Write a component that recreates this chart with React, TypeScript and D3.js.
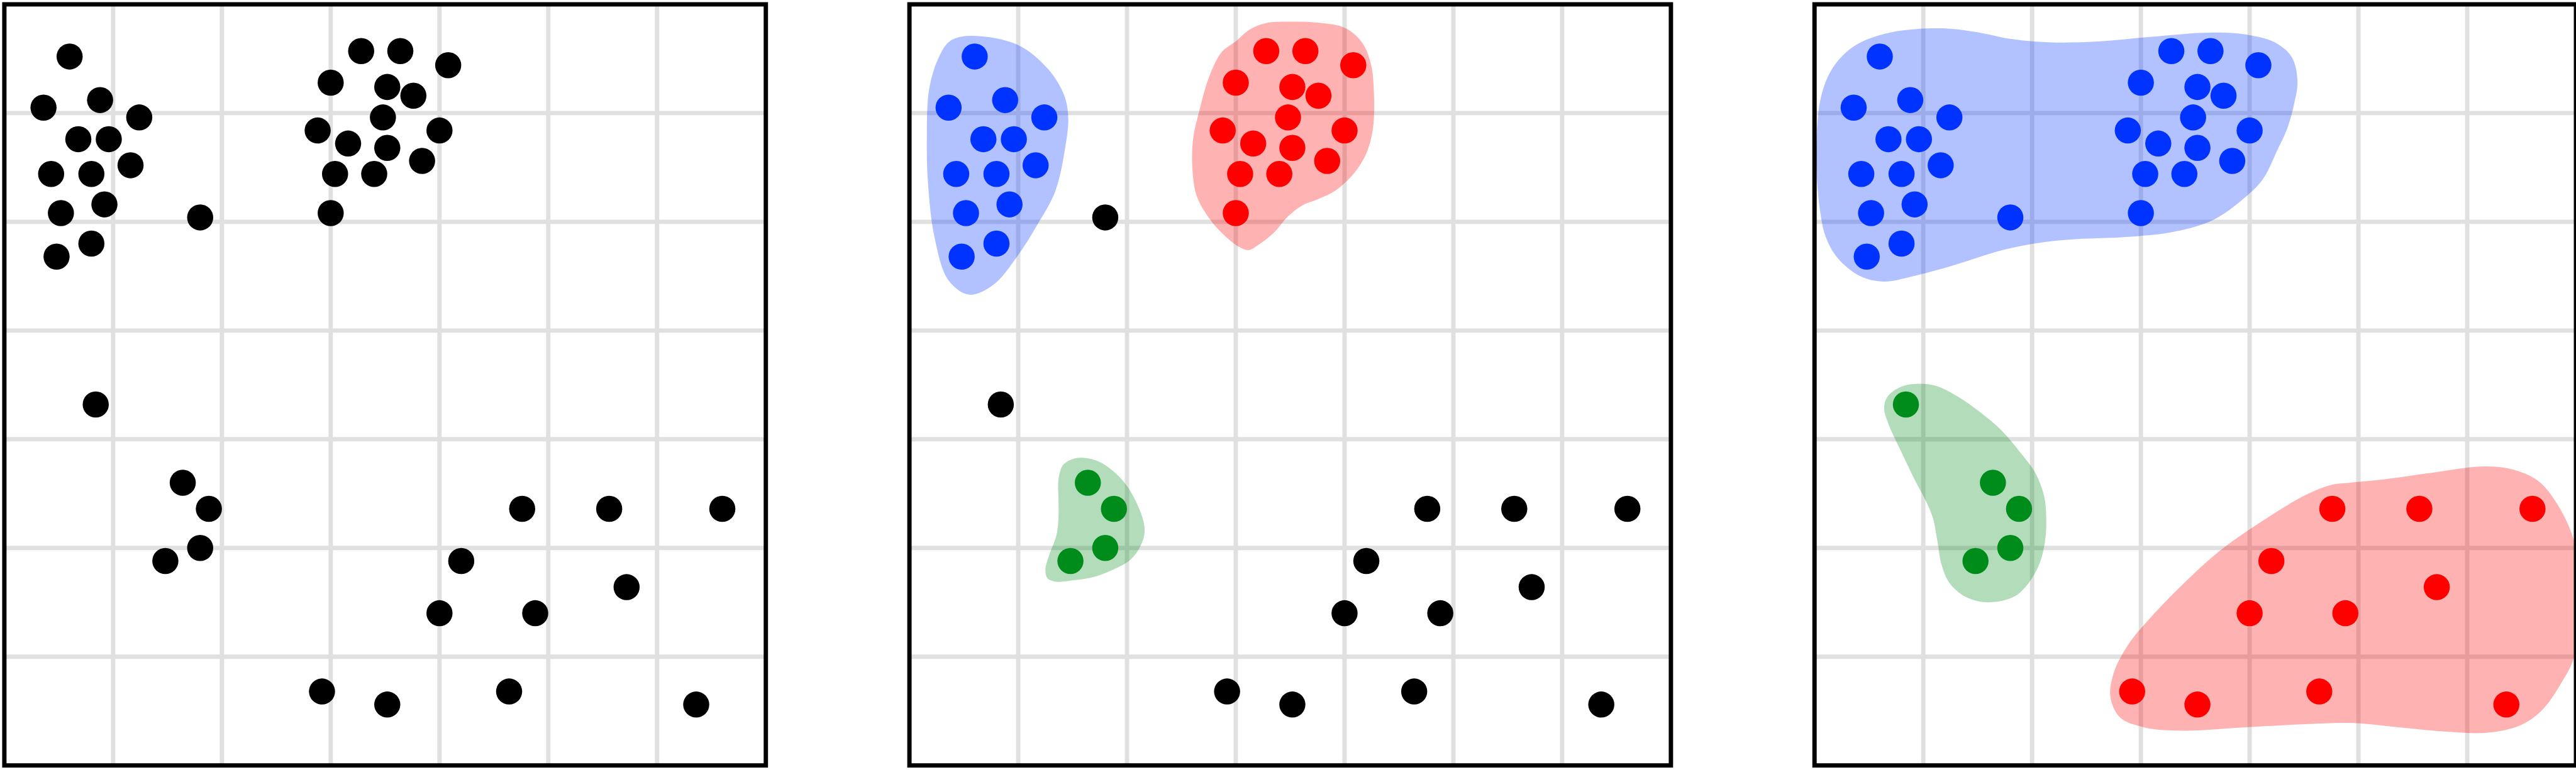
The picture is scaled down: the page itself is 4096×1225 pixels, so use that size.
import React from 'react';
import * as d3 from 'd3';

// ---- data (x right, y up, domain 0..7 on both axes) ----
const pointX = [
  0.60, 0.36, 0.88, 1.24, 0.68, 0.96, 0.43, 0.80, 1.16, 0.52, 0.92, 0.48, 0.80,
  1.80,
  3.28, 3.64, 4.08, 3.00, 3.52, 3.76, 2.88, 3.48, 4.00, 3.16, 3.52, 3.04, 3.40, 3.84, 3.00,
  0.84,
  1.64, 1.88, 1.48, 1.80,
  4.76, 5.56, 6.60, 4.20, 5.72, 4.00, 4.88, 2.92, 3.52, 4.64, 6.36,
];
const pointY = [
  6.52, 6.05, 6.12, 5.96, 5.76, 5.76, 5.44, 5.44, 5.52, 5.08, 5.16, 4.68, 4.80,
  5.04,
  6.57, 6.57, 6.44, 6.28, 6.24, 6.16, 5.84, 5.96, 5.84, 5.72, 5.68, 5.44, 5.44, 5.56, 5.08,
  3.32,
  2.60, 2.36, 1.88, 2.00,
  2.36, 2.36, 2.36, 1.88, 1.64, 1.40, 1.40, 0.68, 0.56, 0.68, 0.56,
];
// cluster labels: panel 2 (first clustering) and panel 3 (second clustering); 'k' = noise
const labelsPanel2 = [
  'b','b','b','b','b','b','b','b','b','b','b','b','b',
  'k',
  'r','r','r','r','r','r','r','r','r','r','r','r','r','r','r',
  'k',
  'g','g','g','g',
  'k','k','k','k','k','k','k','k','k','k','k',
];
const labelsPanel3 = [
  'b','b','b','b','b','b','b','b','b','b','b','b','b',
  'b',
  'b','b','b','b','b','b','b','b','b','b','b','b','b','b','b',
  'g',
  'g','g','g','g',
  'r','r','r','r','r','r','r','r','r','r','r',
];

// hull outlines (data coords)
const hullP2Blue: [number, number][] = [
  [0.55,6.71],[0.99,6.63],[1.27,6.41],[1.42,6.17],[1.46,5.96],[1.43,5.67],[1.34,5.28],[1.18,4.98],
  [0.99,4.68],[0.77,4.42],[0.55,4.33],[0.36,4.46],[0.23,4.86],[0.17,5.37],[0.16,5.79],[0.18,6.21],
  [0.26,6.49],[0.37,6.66],
];
const hullP2Red: [number, number][] = [
  [3.47,6.84],[3.77,6.83],[4.01,6.78],[4.16,6.65],[4.24,6.46],[4.27,6.19],[4.26,5.85],[4.20,5.63],
  [4.09,5.45],[3.92,5.29],[3.76,5.21],[3.61,5.15],[3.48,5.05],[3.35,4.90],[3.21,4.79],[3.12,4.74],
  [3.03,4.77],[2.88,4.89],[2.75,5.04],[2.64,5.24],[2.60,5.51],[2.61,5.78],[2.67,6.04],[2.75,6.32],
  [2.87,6.56],[3.00,6.66],[3.13,6.77],[3.29,6.83],
];
const hullP2Green: [number, number][] = [
  [1.57,2.83],[1.73,2.80],[1.87,2.71],[2.00,2.57],[2.09,2.41],[2.15,2.25],[2.16,2.13],[2.12,2.01],
  [2.03,1.89],[1.87,1.80],[1.68,1.73],[1.48,1.70],[1.35,1.69],[1.27,1.72],[1.25,1.80],[1.29,1.95],
  [1.35,2.11],[1.37,2.27],[1.37,2.45],[1.37,2.63],[1.41,2.76],[1.48,2.81],
];
const hullP3Blue: [number, number][] = [
  [1.14,6.78],[1.46,6.75],[1.82,6.68],[2.18,6.65],[2.63,6.66],[3.08,6.70],[3.62,6.74],[3.98,6.72],
  [4.25,6.64],[4.39,6.51],[4.44,6.29],[4.41,6.09],[4.35,5.87],[4.25,5.65],[4.12,5.39],[3.94,5.21],
  [3.67,5.02],[3.31,4.91],[2.86,4.86],[2.40,4.84],[2.09,4.81],[1.73,4.74],[1.28,4.60],[0.91,4.50],
  [0.64,4.45],[0.42,4.50],[0.21,4.67],[0.10,4.87],[0.05,5.11],[0.02,5.45],[0.02,5.78],[0.06,6.15],
  [0.17,6.42],[0.37,6.62],[0.69,6.74],
];
const hullP3Green: [number, number][] = [
  [0.95,3.51],[1.12,3.49],[1.32,3.39],[1.52,3.25],[1.72,3.08],[1.89,2.88],[2.03,2.69],[2.11,2.48],
  [2.13,2.29],[2.12,2.07],[2.07,1.86],[1.97,1.68],[1.83,1.55],[1.59,1.50],[1.39,1.55],[1.24,1.68],
  [1.17,1.84],[1.13,2.06],[1.09,2.27],[1.03,2.42],[0.92,2.63],[0.79,2.90],[0.68,3.14],[0.64,3.29],
  [0.67,3.39],[0.79,3.48],
];
const hullP3Red: [number, number][] = [
  [4.92,2.60],[5.23,2.63],[5.66,2.69],[6.18,2.75],[6.46,2.71],[6.66,2.61],[6.83,2.40],[6.98,2.07],
  [7.05,1.55],[6.98,0.99],[6.86,0.75],[6.69,0.51],[6.49,0.37],[6.18,0.30],[5.81,0.31],[5.38,0.35],
  [4.95,0.39],[4.52,0.38],[3.95,0.35],[3.38,0.32],[3.03,0.35],[2.81,0.44],[2.72,0.63],[2.75,0.85],
  [2.89,1.12],[3.09,1.36],[3.38,1.66],[3.72,1.97],[4.12,2.25],[4.52,2.49],[4.75,2.58],
];
const gridTicks = [1, 2, 3, 4, 5, 6];

const COLORS: Record<string, string> = { b: '#0033ff', r: '#ff0000', g: '#008c1a', k: '#000000' };

// ---- layout ----
const W = 4096;
const H = 1225;
const S = W / 5920;
const PANEL = 1750 * S;
const TOP = 10 * S;
const LEFTS = [10 * S, 2090 * S, 4170 * S];

type Hull = { pts: [number, number][]; c: string };

const panels: { labels: string[] | null; hulls: Hull[] }[] = [
  { labels: null, hulls: [] },
  { labels: labelsPanel2, hulls: [
    { pts: hullP2Blue, c: 'b' }, { pts: hullP2Red, c: 'r' }, { pts: hullP2Green, c: 'g' },
  ] },
  { labels: labelsPanel3, hulls: [
    { pts: hullP3Blue, c: 'b' }, { pts: hullP3Green, c: 'g' }, { pts: hullP3Red, c: 'r' },
  ] },
];

function Panel({ idx }: { idx: number }) {
  const left = LEFTS[idx];
  const x = d3.scaleLinear().domain([0, 7]).range([left, left + PANEL]);
  const y = d3.scaleLinear().domain([0, 7]).range([TOP + PANEL, TOP]);
  const line = d3.line<[number, number]>()
    .x(d => x(d[0]))
    .y(d => y(d[1]))
    .curve(d3.curveCatmullRomClosed.alpha(0.5));
  const p = panels[idx];
  const clipId = `clip-${idx}`;
  return (
    <g>
      <defs>
        <clipPath id={clipId}>
          <rect x={left} y={TOP} width={PANEL} height={PANEL} />
        </clipPath>
      </defs>
      <rect x={left} y={TOP} width={PANEL} height={PANEL} fill="#ffffff" />
      <g clipPath={`url(#${clipId})`}>
        {gridTicks.map(t => (
          <line key={`v${t}`} x1={x(t)} x2={x(t)} y1={TOP} y2={TOP + PANEL}
            stroke="#e0e0e0" strokeWidth={10 * S} />
        ))}
        {gridTicks.map(t => (
          <line key={`h${t}`} x1={left} x2={left + PANEL} y1={y(t)} y2={y(t)}
            stroke="#e0e0e0" strokeWidth={10 * S} />
        ))}
        {p.hulls.map((h, i) => (
          <path key={i} d={line(h.pts) || ''} fill={COLORS[h.c]} fillOpacity={0.3} stroke="none" />
        ))}
        {pointX.map((px, i) => (
          <circle key={i} cx={x(px)} cy={y(pointY[i])} r={30 * S}
            fill={p.labels ? COLORS[p.labels[i]] : '#000000'} />
        ))}
      </g>
      <rect x={left} y={TOP} width={PANEL} height={PANEL} fill="none"
        stroke="#000000" strokeWidth={10 * S} />
    </g>
  );
}

export default function App() {
  return (
    <svg width={W} height={H} viewBox={`0 0 ${W} ${H}`}
      style={{ position: 'absolute', left: 0, top: 0, background: '#ffffff' }}>
      <rect x={0} y={0} width={W} height={H} fill="#ffffff" />
      {[0, 1, 2].map(i => <Panel key={i} idx={i} />)}
    </svg>
  );
}
